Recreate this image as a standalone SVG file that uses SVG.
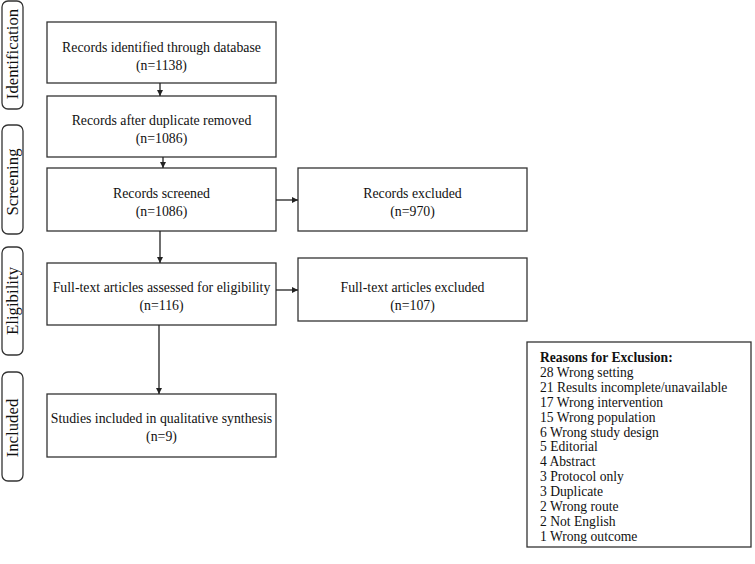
<svg xmlns="http://www.w3.org/2000/svg" width="755" height="564" viewBox="0 0 755 564">
<style>
.box{fill:#fff;stroke:#333;stroke-width:1.3}
.side{fill:#fff;stroke:#333;stroke-width:1.3}
.t{font-family:"Liberation Serif","Times New Roman",serif;font-size:13.8px;fill:#111;text-anchor:middle}
.s{font-family:"Liberation Serif","Times New Roman",serif;font-size:16.8px;fill:#111;text-anchor:middle}
.r{font-family:"Liberation Serif","Times New Roman",serif;font-size:13.6px;fill:#111}
.c{stroke:#222;stroke-width:1.3;fill:none;marker-end:url(#ah)}
</style>
<defs>
<marker id="ah" viewBox="0 0 10 10" refX="10" refY="5" markerWidth="6" markerHeight="6" markerUnits="userSpaceOnUse" orient="auto">
<path d="M0,0 L10,5 L0,10 z" fill="#222"/>
</marker>
</defs>
<rect width="755" height="564" fill="#fff"/>
<g id="stage-identification">
<rect class="side" x="2" y="1" width="21" height="108" rx="6"/>
<text class="s" transform="translate(18,54) rotate(-90)">Identification</text>
</g>
<g id="stage-screening">
<rect class="side" x="2" y="125" width="21" height="109" rx="6"/>
<text class="s" transform="translate(18,182) rotate(-90)">Screening</text>
</g>
<g id="stage-eligibility">
<rect class="side" x="2" y="247" width="21" height="108" rx="6"/>
<text class="s" transform="translate(18,301) rotate(-90)">Eligibility</text>
</g>
<g id="stage-included">
<rect class="side" x="2" y="372" width="21" height="109" rx="6"/>
<text class="s" transform="translate(18,428) rotate(-90)">Included</text>
</g>
<g id="n1">
<rect class="box" x="47" y="22" width="229" height="61"/>
<text class="t" x="161.5" y="52">Records identified through database</text>
<text class="t" x="161.5" y="70">(n=1138)</text>
</g>
<g id="n2">
<rect class="box" x="47" y="96" width="229" height="61"/>
<text class="t" x="161.5" y="125">Records after duplicate removed</text>
<text class="t" x="161.5" y="143">(n=1086)</text>
</g>
<g id="n3">
<rect class="box" x="47" y="168" width="229" height="63"/>
<text class="t" x="161.5" y="198">Records screened</text>
<text class="t" x="161.5" y="216">(n=1086)</text>
</g>
<g id="n4">
<rect class="box" x="47" y="263" width="229" height="62"/>
<text class="t" x="161.5" y="292">Full-text articles assessed for eligibility</text>
<text class="t" x="161.5" y="310">(n=116)</text>
</g>
<g id="n5">
<rect class="box" x="47" y="394" width="229" height="63"/>
<text class="t" x="161.5" y="423">Studies included in qualitative synthesis</text>
<text class="t" x="161.5" y="441">(n=9)</text>
</g>
<g id="n6">
<rect class="box" x="298" y="168" width="229" height="63"/>
<text class="t" x="412.5" y="198">Records excluded</text>
<text class="t" x="412.5" y="216">(n=970)</text>
</g>
<g id="n7">
<rect class="box" x="298" y="258" width="229" height="63"/>
<text class="t" x="412.5" y="292">Full-text articles excluded</text>
<text class="t" x="412.5" y="310">(n=107)</text>
</g>
<g id="n8">
<rect class="box" x="527" y="342" width="224" height="205"/>
<text class="r" x="540" y="362" font-weight="bold">Reasons for Exclusion:</text>
<text class="r" x="540" y="376.9">28 Wrong setting</text>
<text class="r" x="540" y="391.8">21 Results incomplete/unavailable</text>
<text class="r" x="540" y="406.7">17 Wrong intervention</text>
<text class="r" x="540" y="421.6">15 Wrong population</text>
<text class="r" x="540" y="436.5">6 Wrong study design</text>
<text class="r" x="540" y="451.4">5 Editorial</text>
<text class="r" x="540" y="466.3">4 Abstract</text>
<text class="r" x="540" y="481.2">3 Protocol only</text>
<text class="r" x="540" y="496.1">3 Duplicate</text>
<text class="r" x="540" y="511">2 Wrong route</text>
<text class="r" x="540" y="525.9">2 Not English</text>
<text class="r" x="540" y="540.8">1 Wrong outcome</text>
</g>
<g id="connectors">
<line class="c" x1="160" y1="83" x2="160" y2="96"/>
<line class="c" x1="163" y1="157" x2="163" y2="168"/>
<line class="c" x1="160" y1="231" x2="160" y2="263"/>
<line class="c" x1="159" y1="325" x2="159" y2="394"/>
<line class="c" x1="276" y1="200" x2="298" y2="200"/>
<line class="c" x1="276" y1="290" x2="298" y2="290"/>
</g>
</svg>
